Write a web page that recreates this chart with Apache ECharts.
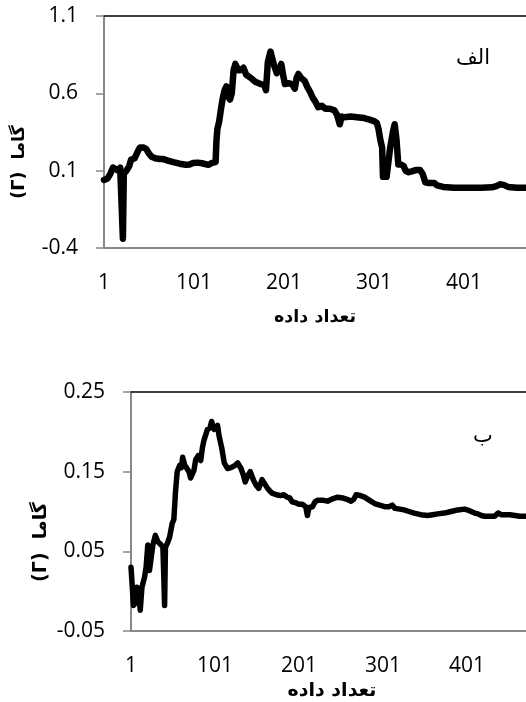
<!DOCTYPE html>
<html><head><meta charset="utf-8">
<script src="https://cdn.jsdelivr.net/npm/echarts@6/dist/echarts.min.js"></script>
<style>html,body{margin:0;padding:0;overflow:hidden;background:#fff;width:526px;height:702px}#c{width:600px;height:702px}</style>
</head><body><div id="c"></div><script>
// ---- data ----
const xTickLabels = [1, 101, 201, 301, 401, 501];
const topYTicks = [-0.4, 0.1, 0.6, 1.1];
const bottomYTicks = [-0.05, 0.05, 0.15, 0.25];

const topN = [1,5,8,11,14,17,19,21,22,23,26,29,31,35,37,39,41,45,48,51,54,58,63,67,72,78,85,92,96,100,105,110,117,121,125,126,127,129,131,133,135,137,139,141,143,145,147,150,153,156,159,164,169,175,179,181,183,186,188,190,193,196,198,200,202,206,210,213,215,217,220,224,227,230,233,236,239,243,247,252,257,260,263,265,268,275,282,290,296,301,304,306,308,310,311,315,317,319,322,324,326,328,331,334,336,339,343,348,352,355,358,362,368,371,378,390,400,420,432,437,441,445,450,460,475];
const topGamma = [0.04,0.05,0.08,0.12,0.11,0.10,0.12,0.11,-0.34,0.08,0.10,0.13,0.17,0.18,0.19,0.23,0.25,0.25,0.24,0.21,0.19,0.18,0.175,0.175,0.165,0.155,0.145,0.138,0.14,0.15,0.152,0.148,0.138,0.15,0.155,0.30,0.37,0.42,0.50,0.57,0.62,0.645,0.58,0.56,0.60,0.75,0.79,0.75,0.75,0.765,0.72,0.70,0.675,0.66,0.655,0.62,0.80,0.87,0.86,0.78,0.73,0.76,0.79,0.72,0.66,0.665,0.66,0.63,0.70,0.725,0.70,0.68,0.64,0.61,0.57,0.545,0.51,0.52,0.50,0.50,0.49,0.46,0.40,0.45,0.445,0.45,0.445,0.44,0.43,0.42,0.41,0.37,0.30,0.25,0.06,0.06,0.06,0.25,0.35,0.40,0.30,0.14,0.14,0.13,0.10,0.09,0.095,0.105,0.105,0.08,0.025,0.02,0.02,0.005,-0.005,-0.01,-0.01,-0.01,-0.008,0.0,0.012,0.008,-0.005,-0.01,-0.01];

const bottomN = [1,3,4,6,8,10,11,12,14,17,19,21,23,25,27,30,33,37,39,40,41,42,45,47,50,52,54,56,59,61,62.5,65,67,70,72,74,76,78,81,84,86,88,92,95,97,100,102,104,106,109,112,116,120,122,125,128,132,135,137,140,143,147,150,153,157,160,163,166,169,174,179,183,187,190,193,197,201,205,209,211,213,217,220,223,230,235,241,247,253,259,263,266,269,274,279,285,291,297,303,308,312,315,321,326,332,338,346,354,360,366,374,382,390,398,404,410,414,418,422,428,434,438,442,446,452,458,464,470,476];
const bottomGamma = [0.03,0.028,-0.018,-0.015,0.005,0.0,-0.012,-0.024,0.005,0.017,0.03,0.058,0.026,0.027,0.058,0.07,0.062,0.058,0.055,0.02,-0.018,0.055,0.062,0.068,0.085,0.09,0.125,0.15,0.158,0.155,0.168,0.158,0.155,0.15,0.142,0.14,0.152,0.165,0.17,0.164,0.18,0.19,0.203,0.205,0.213,0.203,0.205,0.208,0.194,0.18,0.161,0.154,0.155,0.153,0.158,0.161,0.154,0.145,0.137,0.145,0.15,0.139,0.133,0.129,0.14,0.135,0.13,0.126,0.123,0.121,0.12,0.121,0.118,0.117,0.112,0.111,0.109,0.109,0.106,0.095,0.105,0.106,0.112,0.114,0.114,0.113,0.116,0.118,0.117,0.115,0.113,0.115,0.121,0.12,0.118,0.114,0.11,0.108,0.106,0.106,0.108,0.104,0.103,0.102,0.1,0.098,0.096,0.095,0.096,0.097,0.098,0.1,0.102,0.103,0.101,0.098,0.097,0.095,0.094,0.094,0.094,0.098,0.096,0.096,0.096,0.095,0.094,0.094,0.094];

const xName = 'تعداد داده';
const yName = '(Γ)  گاما';
const panelTop = 'الف';
const panelBottom = 'ب';

// ---- chart ----
const numFont = 'Open Sans';
const arFont = 'DejaVu Sans';
const x0 = xTickLabels[0];
const xSpan = xTickLabels[xTickLabels.length - 1] - x0;
const xStep = xTickLabels[1] - xTickLabels[0];

function makeX(gi) {
  return [{
    type: 'value', gridIndex: gi, min: 0, max: xSpan, interval: xStep,
    axisLine: { show: true, lineStyle: { color: '#888', width: 2 } },
    axisTick: { show: false }, splitLine: { show: false },
    axisLabel: { formatter: v => String(v + x0), color: '#000', fontFamily: numFont, fontSize: 21, margin: 25 }
  }, {
    type: 'value', gridIndex: gi, position: 'top', min: 0, max: xSpan,
    axisLine: { show: true, lineStyle: { color: '#000', width: 1.5 } },
    axisTick: { show: false }, axisLabel: { show: false }, splitLine: { show: false }
  }];
}
function makeY(gi, ticks, dec) {
  const lo = ticks[0], step = ticks[1] - ticks[0], hi = ticks[ticks.length - 1];
  return {
    type: 'value', gridIndex: gi, min: 0, max: +(hi - lo).toFixed(6), interval: step,
    axisLine: { show: true, onZero: false, lineStyle: { color: '#888', width: 2 } },
    axisTick: { show: true, inside: false, length: 8, lineStyle: { color: '#888', width: 1.5 } },
    splitLine: { show: false },
    axisLabel: { formatter: v => (v + lo).toFixed(dec), color: '#000', fontFamily: numFont, fontSize: 21, margin: 26 }
  };
}
const topLo = topYTicks[0], botLo = bottomYTicks[0];
const topData = topN.map((n, i) => [n - x0, topGamma[i] - topLo]);
const botData = bottomN.map((n, i) => [n - x0, bottomGamma[i] - botLo]);

function txt(x, y, text, size, bold, rot) {
  return {
    type: 'text', x: x, y: y, rotation: rot || 0,
    style: { text: text, fill: '#000', fontFamily: arFont, fontSize: size, fontWeight: bold ? 'bold' : 'normal',
      align: 'center', verticalAlign: 'middle', textAlign: 'center', textVerticalAlign: 'middle' }
  };
}

const chart = echarts.init(document.getElementById('c'), null, { renderer: 'canvas' });
chart.setOption({
  animation: false,
  backgroundColor: '#fff',
  grid: [
    { left: 104, top: 16, width: 450, height: 232 },
    { left: 131, top: 392, width: 420, height: 239 }
  ],
  xAxis: [...makeX(0), ...makeX(1)],
  yAxis: [makeY(0, topYTicks, 1), makeY(1, bottomYTicks, 2)],
  series: [
    { type: 'line', xAxisIndex: 0, yAxisIndex: 0, data: topData, showSymbol: false, symbol: 'none',
      lineStyle: { color: '#000', width: 6.5, join: 'round', cap: 'round' } },
    { type: 'line', xAxisIndex: 2, yAxisIndex: 1, data: botData, showSymbol: false, symbol: 'none',
      lineStyle: { color: '#000', width: 5.5, join: 'round', cap: 'round' } }
  ],
  graphic: [
    txt(473, 59, panelTop, 21, false),
    txt(483, 437, panelBottom, 21, false),
    txt(315, 317, xName, 17.5, true),
    txt(332, 691, xName, 19, true),
    txt(19, 162, yName, 17.5, true, Math.PI / 2),
    txt(41, 542, yName, 19, true, Math.PI / 2)
  ]
});
</script></body></html>
